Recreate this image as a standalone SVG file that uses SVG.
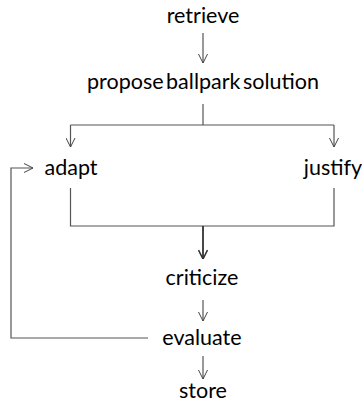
<svg xmlns="http://www.w3.org/2000/svg" width="362" height="409" viewBox="0 0 362 409">
<defs>
<marker id="v" viewBox="0 0 10 10" refX="10" refY="5" markerWidth="10" markerHeight="10" markerUnits="userSpaceOnUse" orient="auto">
<path d="M1,0.5 L10,5 L1,9.5" fill="none" stroke="#444" stroke-width="1"/>
</marker>
<marker id="vb" viewBox="0 0 10 10" refX="10" refY="5" markerWidth="10" markerHeight="10" markerUnits="userSpaceOnUse" orient="auto">
<path d="M1,0.5 L10,5 L1,9.5" fill="none" stroke="#333" stroke-width="1.6"/>
</marker>
</defs>
<style>
text{font-family:"Lato","Liberation Sans",sans-serif;font-size:21.5px;fill:#000;text-anchor:middle}
.c{fill:none;stroke:#555;stroke-width:1.2}
.a{marker-end:url(#v)}
.b{fill:none;stroke:#333;stroke-width:1.8;marker-end:url(#vb)}
</style>
<g id="retrieve"><text x="203" y="23">retrieve</text></g>
<g id="propose"><text x="203" y="89" word-spacing="-3">propose ballpark solution</text></g>
<g id="adapt"><text x="71" y="175">adapt</text></g>
<g id="justify"><text x="333" y="175">justify</text></g>
<g id="criticize"><text x="202" y="285">criticize</text></g>
<g id="evaluate"><text x="202" y="345">evaluate</text></g>
<g id="store"><text x="203" y="398">store</text></g>
<g id="connectors">
<path class="c a" d="M203,33 V63"/>
<path class="c" d="M203,104 V125"/>
<path class="c a" d="M70.5,125 H334 M70.5,125 V147"/>
<path class="c a" d="M334,125 V147"/>
<path class="c" d="M70.5,188 V226 H334 V188"/>
<path class="b" d="M203,226 V259"/>
<path class="c a" d="M203,300 V321"/>
<path class="c a" d="M148,338 H11 V168 H33"/>
<path class="c a" d="M203,356 V379"/>
</g>
</svg>
